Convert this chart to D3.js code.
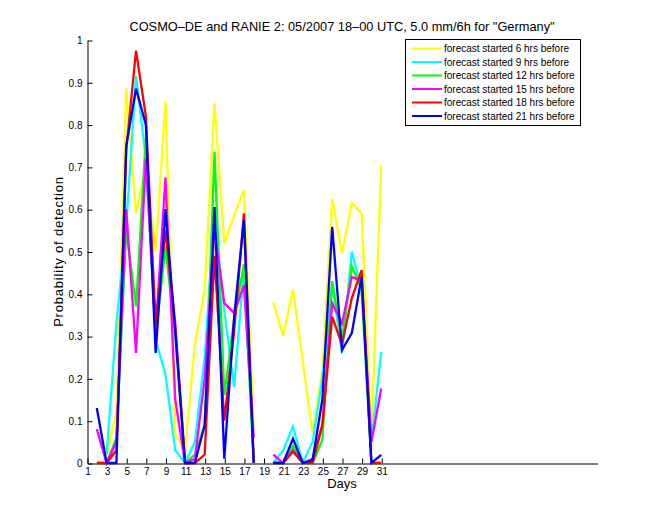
<!DOCTYPE html>
<html>
<head>
<meta charset="utf-8">
<script src="https://cdn.jsdelivr.net/npm/d3@7"></script>
<style>
  body { margin: 0; background: #fff; }
  svg { display: block; font-family: "Liberation Sans", Arial, sans-serif; }
</style>
</head>
<body>
<div id="chart"></div>
<script>
// days of the month (NaN days are null in the series)
const days = [1, 2, 3, 4, 5, 6, 7, 8, 9, 10, 11, 12, 13, 14, 15, 16, 17, 18, 19, 20, 21, 22, 23, 24, 25, 26, 27, 28, 29, 30, 31];

const seriesNames = [
    'forecast started 6 hrs before',
    'forecast started 9 hrs before',
    'forecast started 12 hrs before',
    'forecast started 15 hrs before',
    'forecast started 18 hrs before',
    'forecast started 21 hrs before'
];

const pod6 = [null, null, 0.02, 0.12, 0.885, 0.59, 0.70, 0.50, 0.855, 0.07, 0.03, 0.28, 0.41, 0.85, 0.52, 0.585, 0.645, 0.08, null, 0.38, 0.30, 0.41, 0.24, 0.07, 0.22, 0.625, 0.495, 0.615, 0.59, 0.07, 0.705];
const pod9 = [null, null, 0.02, 0.33, 0.56, 0.915, 0.72, 0.29, 0.21, 0.03, 0.0, 0.05, 0.25, 0.59, 0.36, 0.18, 0.46, 0.0, null, 0.0, 0.03, 0.086, 0.0, 0.05, 0.20, 0.42, 0.26, 0.50, 0.41, 0.05, 0.263];
const pod12 = [null, 0.0, 0.0, 0.06, 0.55, 0.37, 0.77, 0.30, 0.51, 0.30, 0.0, 0.02, 0.09, 0.735, 0.16, 0.34, 0.47, 0.0, null, 0.0, 0.0, 0.04, 0.0, 0.0, 0.055, 0.43, 0.29, 0.465, 0.41, 0.0, 0.0];
const pod15 = [null, 0.08, 0.0, 0.05, 0.60, 0.26, 0.72, 0.31, 0.675, 0.15, 0.0, 0.01, 0.20, 0.55, 0.378, 0.355, 0.42, 0.06, null, 0.02, 0.0, 0.03, 0.0, 0.01, 0.09, 0.378, 0.33, 0.44, 0.43, 0.05, 0.176];
const pod18 = [null, 0.0, 0.0, 0.03, 0.74, 0.975, 0.82, 0.33, 0.55, 0.33, 0.0, 0.0, 0.02, 0.49, 0.10, 0.31, 0.59, 0.0, null, 0.0, 0.0, 0.027, 0.0, 0.0, 0.09, 0.346, 0.28, 0.39, 0.456, 0.0, 0.0];
const pod21 = [null, 0.13, 0.0, 0.0, 0.75, 0.885, 0.80, 0.26, 0.60, 0.31, 0.0, 0.0, 0.09, 0.605, 0.01, 0.345, 0.575, 0.0, null, 0.0, 0.0, 0.057, 0.0, 0.007, 0.15, 0.558, 0.267, 0.307, 0.44, 0.0, 0.019];

const xTicks = [1, 3, 5, 7, 9, 11, 13, 15, 17, 19, 21, 23, 25, 27, 29, 31];
const yTicks = [0, 0.1, 0.2, 0.3, 0.4, 0.5, 0.6, 0.7, 0.8, 0.9, 1];
const yTickLabels = ['0', '0.1', '0.2', '0.3', '0.4', '0.5', '0.6', '0.7', '0.8', '0.9', '1'];

const colors = ['#ffff00', '#00ffff', '#00ff00', '#ff00ff', '#ff0000', '#0000ff'];
const allSeries = [pod6, pod9, pod12, pod15, pod18, pod21];

const width = 660;
const height = 520;
const plotLeft = 87, plotRight = 597, plotTop = 40, plotBottom = 463;

const x = d3.scaleLinear().domain([1, 53]).range([plotLeft, plotRight]);
const y = d3.scaleLinear().domain([0, 1]).range([plotBottom, plotTop]);

const svg = d3.select('#chart')
    .append('svg')
    .attr('width', width)
    .attr('height', height);

svg.append('rect')
    .attr('width', width)
    .attr('height', height)
    .attr('fill', '#fff');

/* axes */
const xAxis = svg.append('g')
    .attr('transform', `translate(0.5, ${plotBottom + 0.5})`)
    .call(d3.axisBottom(x)
        .tickValues(xTicks)
        .tickFormat(d => String(d))
        .tickSizeInner(-5)
        .tickSizeOuter(0)
        .tickPadding(4));

const yAxis = svg.append('g')
    .attr('transform', `translate(${plotLeft + 0.5}, 0.5)`)
    .call(d3.axisLeft(y)
        .tickValues(yTicks)
        .tickFormat((d, i) => yTickLabels[i])
        .tickSizeInner(-5)
        .tickSizeOuter(0)
        .tickPadding(5));

[xAxis, yAxis].forEach(g => {
    g.select('.domain').attr('stroke', '#000');
    g.selectAll('.tick line').attr('stroke', '#000');
    g.selectAll('.tick text')
        .attr('fill', '#000')
        .style('font-size', '10px')
        .style('font-family', '"Liberation Sans", Arial, sans-serif');
});

/* lines */
const line = d3.line()
    .defined(d => d.v !== null)
    .x(d => x(d.day))
    .y(d => y(d.v));

allSeries.forEach((vals, i) => {
    const pts = days.map((day, k) => ({ day: day, v: vals[k] }));
    svg.append('path')
        .datum(pts)
        .attr('d', line)
        .attr('fill', 'none')
        .attr('stroke', colors[i])
        .attr('stroke-width', 2.3)
        .attr('stroke-linejoin', 'miter');
});

/* labels */
svg.append('text')
    .attr('x', (plotLeft + plotRight) / 2)
    .attr('y', 31)
    .attr('text-anchor', 'middle')
    .style('font-size', '12.8px')
    .text('COSMO\u2013DE and RANIE 2: 05/2007 18\u201300 UTC, 5.0 mm/6h for "Germany"');

svg.append('text')
    .attr('x', (plotLeft + plotRight) / 2)
    .attr('y', 488)
    .attr('text-anchor', 'middle')
    .style('font-size', '13px')
    .text('Days');

svg.append('text')
    .attr('transform', `translate(63, ${(plotTop + plotBottom) / 2}) rotate(-90)`)
    .attr('text-anchor', 'middle')
    .style('font-size', '13px')
    .style('letter-spacing', '0.8px')
    .text('Probability of detection');

/* legend */
const legend = svg.append('g');
legend.append('rect')
    .attr('x', 405.5)
    .attr('y', 39.5)
    .attr('width', 175)
    .attr('height', 86)
    .attr('fill', '#fff')
    .attr('stroke', '#000');

seriesNames.forEach((name, i) => {
    const ly = 48.5 + i * 13.5;
    legend.append('line')
        .attr('x1', 412)
        .attr('x2', 442)
        .attr('y1', ly)
        .attr('y2', ly)
        .attr('stroke', colors[i])
        .attr('stroke-width', 2);
    legend.append('text')
        .attr('x', 444)
        .attr('y', ly + 3.5)
        .style('font-size', '10px')
        .text(name);
});
</script>
</body>
</html>
